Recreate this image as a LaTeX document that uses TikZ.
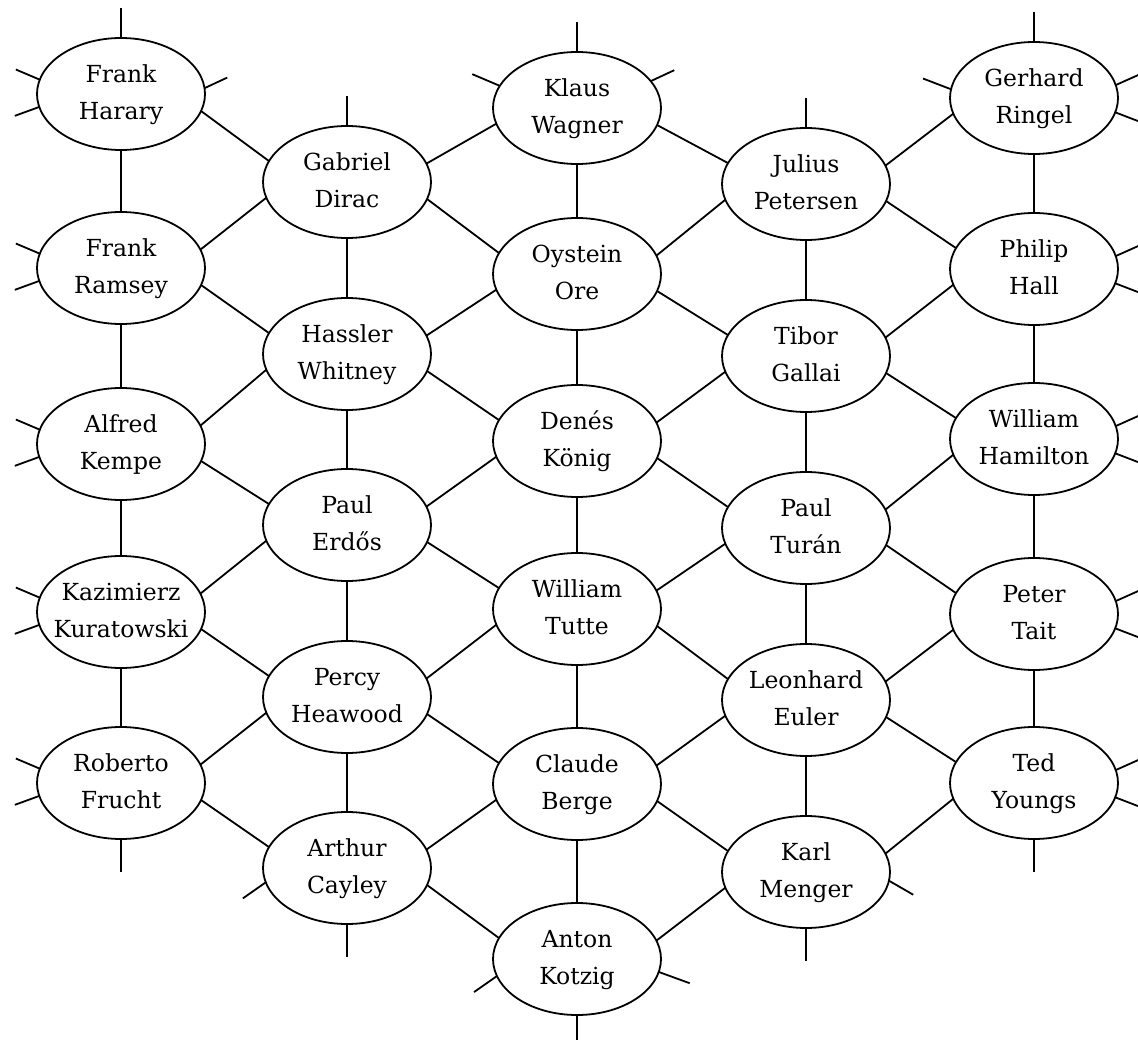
\documentclass[tikz,border=0pt]{standalone}
\usepackage{fontspec}
\setmainfont{DejaVu Serif}
\usetikzlibrary{shapes.geometric}
\newcommand{\twoline}[2]{\makebox[0pt]{\begin{tabular}{@{}c@{}}#1\\#2\end{tabular}}}
\begin{document}
\begin{tikzpicture}[x=1pt,y=-1pt,line width=1.8pt,
  person/.style={ellipse,draw,minimum width=168pt,minimum height=112pt,inner sep=0pt,outer sep=0pt,font=\fontsize{23.5}{37}\selectfont}]
\useasboundingbox (0,0) rectangle (1138,1040);
\clip (0,0) rectangle (1138,1040);
% column 1
\node[person] (harary) at (121,94) {\twoline{Frank}{Harary}};
\node[person] (ramsey) at (121,268) {\twoline{Frank}{Ramsey}};
\node[person] (kempe) at (121,444) {\twoline{Alfred}{Kempe}};
\node[person] (kuratowski) at (121,612) {\twoline{Kazimierz}{Kuratowski}};
\node[person] (frucht) at (121,783) {\twoline{Roberto}{Frucht}};
% column 2
\node[person] (dirac) at (347,182) {\twoline{Gabriel}{Dirac}};
\node[person] (whitney) at (347,354) {\twoline{Hassler}{Whitney}};
\node[person] (erdos) at (347,525) {\twoline{Paul}{Erdős}};
\node[person] (heawood) at (347,697) {\twoline{Percy}{Heawood}};
\node[person] (cayley) at (347,868) {\twoline{Arthur}{Cayley}};
% column 3
\node[person] (wagner) at (577,108) {\twoline{Klaus}{Wagner}};
\node[person] (ore) at (577,274) {\twoline{Oystein}{Ore}};
\node[person] (konig) at (577,441) {\twoline{Denés}{König}};
\node[person] (tutte) at (577,609) {\twoline{William}{Tutte}};
\node[person] (berge) at (577,784) {\twoline{Claude}{Berge}};
\node[person] (kotzig) at (577,959) {\twoline{Anton}{Kotzig}};
% column 4
\node[person] (petersen) at (806,184) {\twoline{Julius}{Petersen}};
\node[person] (gallai) at (806,356) {\twoline{Tibor}{Gallai}};
\node[person] (turan) at (806,528) {\twoline{Paul}{Turán}};
\node[person] (euler) at (806,700) {\twoline{Leonhard}{Euler}};
\node[person] (menger) at (806,872) {\twoline{Karl}{Menger}};
% column 5
\node[person] (ringel) at (1034,98) {\twoline{Gerhard}{Ringel}};
\node[person] (hall) at (1034,269) {\twoline{Philip}{Hall}};
\node[person] (hamilton) at (1034,439) {\twoline{William}{Hamilton}};
\node[person] (tait) at (1034,614) {\twoline{Peter}{Tait}};
\node[person] (youngs) at (1034,783) {\twoline{Ted}{Youngs}};
% vertical edges
\foreach \a/\b in {harary/ramsey,ramsey/kempe,kempe/kuratowski,kuratowski/frucht,
  dirac/whitney,whitney/erdos,erdos/heawood,heawood/cayley,
  wagner/ore,ore/konig,konig/tutte,tutte/berge,berge/kotzig,
  petersen/gallai,gallai/turan,turan/euler,euler/menger,
  ringel/hall,hall/hamilton,hamilton/tait,tait/youngs}
  \draw (\a.south) -- (\b.north);
% down-right edges
\foreach \a/\b in {harary/dirac,ramsey/whitney,kempe/erdos,kuratowski/heawood,frucht/cayley,
  dirac/ore,whitney/konig,erdos/tutte,heawood/berge,cayley/kotzig,
  wagner/petersen,ore/gallai,konig/turan,tutte/euler,berge/menger,
  petersen/hall,gallai/hamilton,turan/tait,euler/youngs}
  \draw (\a.-12) -- (\b.165);
% up-right edges
\foreach \a/\b in {ramsey/dirac,kempe/whitney,kuratowski/erdos,frucht/heawood,
  dirac/wagner,whitney/ore,erdos/konig,heawood/tutte,cayley/berge,
  ore/petersen,konig/gallai,tutte/turan,berge/euler,kotzig/menger,
  petersen/ringel,gallai/hall,turan/hamilton,euler/tait,menger/youngs}
  \draw (\a.13) -- (\b.191);
% stubs
\foreach \n in {harary,dirac,wagner,petersen,ringel}
  \draw (\n.north) -- ++(0pt,30pt);
\foreach \n in {frucht,cayley,kotzig,menger,youngs}
  \draw (\n.south) -- ++(0pt,-33pt);
\foreach \n in {harary,ramsey,kempe,kuratowski,frucht}{
  \draw (\n.170) -- ++(157:26pt);
  \draw (\n.189) -- ++(200:26pt);}
\foreach \n in {ringel,hall,hamilton,tait,youngs}{
  \draw (\n.9) -- ++(24:26pt);
  \draw (\n.-10) -- ++(-21:26pt);}
\draw (harary.4) -- ++(25:25pt);
\draw (wagner.164) -- ++(157:30pt);
\draw (wagner.20) -- ++(25:26pt);
\draw (ringel.174) -- ++(159:30pt);
\draw (cayley.190) -- ++(215:28pt);
\draw (kotzig.192) -- ++(215:28pt);
\draw (kotzig.-9) -- ++(-20:33pt);
\draw (menger.-6) -- ++(-30:28pt);
\end{tikzpicture}
\end{document}
